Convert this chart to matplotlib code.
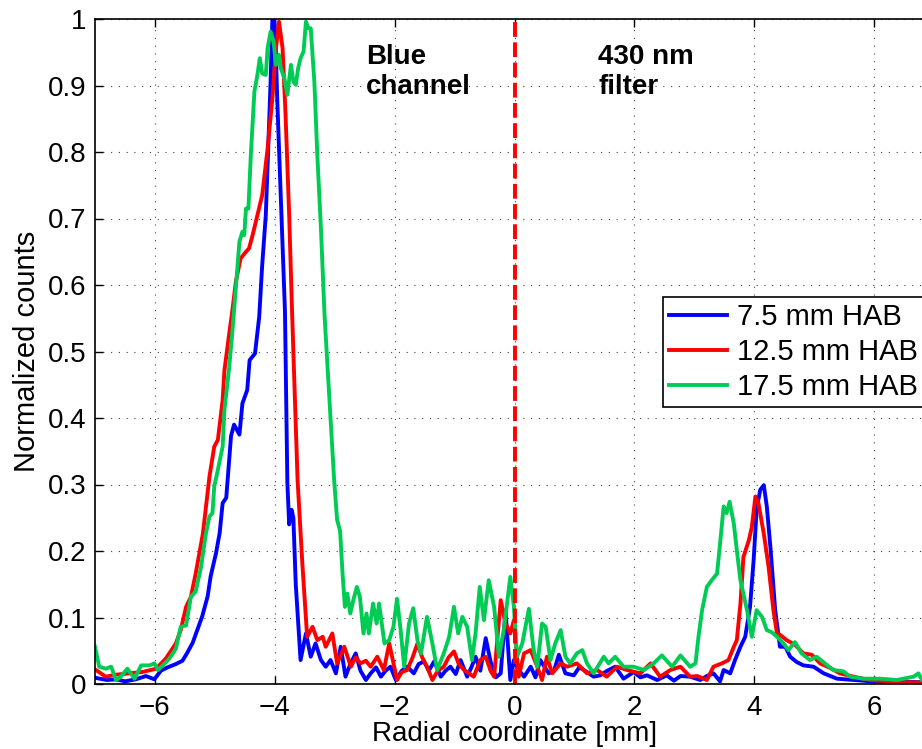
"""Normalized radial profiles of the blue channel (430 nm filter) at three HAB."""
import matplotlib

matplotlib.use("Agg")
import matplotlib.pyplot as plt

plt.rcParams["font.family"] = ["Liberation Sans", "DejaVu Sans"]

# 7.5 mm HAB
x_75 = [-7.0, -6.98, -6.8, -6.65, -6.5, -6.32, -6.15, -6.01, -5.9, -5.79,
        -5.65, -5.54, -5.46, -5.37, -5.29, -5.21, -5.12, -5.07, -4.98, -4.92,
        -4.87, -4.81, -4.73, -4.68, -4.59, -4.54, -4.46, -4.42, -4.33, -4.26,
        -4.21, -4.15, -4.11, -4.07, -4.04, -4.01, -3.99, -3.96, -3.91, -3.87,
        -3.83, -3.81, -3.79, -3.76, -3.72, -3.69, -3.65, -3.57, -3.48, -3.4,
        -3.32, -3.23, -3.15, -3.07, -2.98, -2.9, -2.82, -2.74, -2.65, -2.57,
        -2.48, -2.4, -2.31, -2.23, -2.15, -2.07, -1.98, -1.88, -1.79, -1.68,
        -1.6, -1.51, -1.43, -1.34, -1.23, -1.15, -1.07, -0.98, -0.9, -0.79,
        -0.72, -0.65, -0.57, -0.48, -0.4, -0.31, -0.23, -0.15, -0.07, -0.01,
        0.07, 0.16, 0.27, 0.35, 0.43, 0.57, 0.66, 0.74, 0.85, 0.99,
        1.08, 1.16, 1.32, 1.43, 1.55, 1.68, 1.82, 1.99, 2.1, 2.21,
        2.38, 2.54, 2.66, 2.77, 2.93, 3.1, 3.21, 3.32, 3.43, 3.49,
        3.6, 3.68, 3.77, 3.85, 3.93, 3.99, 4.04, 4.1, 4.16, 4.21,
        4.27, 4.35, 4.43, 4.52, 4.6, 4.71, 4.82, 4.99, 5.16, 5.38,
        5.66, 6.1, 6.66, 7.0]
y_75 = [0.01, 0.009, 0.006, 0.007, 0.004, 0.007, 0.012, 0.007, 0.02, 0.025,
        0.03, 0.035, 0.047, 0.062, 0.082, 0.102, 0.132, 0.162, 0.197, 0.227,
        0.272, 0.28, 0.373, 0.39, 0.375, 0.422, 0.442, 0.487, 0.497, 0.552,
        0.63, 0.705, 0.805, 0.906, 1.0, 1.0, 0.976, 0.881, 0.756, 0.655,
        0.56, 0.427, 0.302, 0.24, 0.262, 0.25, 0.15, 0.036, 0.076, 0.041,
        0.061, 0.036, 0.026, 0.036, 0.016, 0.056, 0.011, 0.03, 0.046, 0.02,
        0.006, 0.016, 0.025, 0.011, 0.02, 0.026, 0.006, 0.02, 0.026, 0.016,
        0.03, 0.034, 0.02, 0.034, 0.011, 0.02, 0.026, 0.015, 0.036, 0.011,
        0.025, 0.041, 0.02, 0.069, 0.034, 0.01, 0.016, 0.111, 0.006, 0.036,
        0.021, 0.011, 0.026, 0.01, 0.036, 0.016, 0.02, 0.044, 0.016, 0.013,
        0.025, 0.021, 0.011, 0.013, 0.02, 0.026, 0.008, 0.018, 0.01, 0.013,
        0.006, 0.013, 0.005, 0.012, 0.011, 0.006, 0.012, 0.016, 0.004, 0.021,
        0.016, 0.036, 0.056, 0.071, 0.116, 0.186, 0.262, 0.292, 0.299, 0.267,
        0.206, 0.111, 0.056, 0.056, 0.041, 0.033, 0.028, 0.026, 0.016, 0.008,
        0.006, 0.003, 0.003, 0.002]

# 12.5 mm HAB
x_125 = [-7.0, -6.82, -6.65, -6.43, -6.21, -5.98, -5.82, -5.65, -5.57, -5.48,
         -5.4, -5.32, -5.2, -5.09, -5.01, -4.95, -4.87, -4.84, -4.76, -4.71,
         -4.65, -4.57, -4.48, -4.43, -4.37, -4.29, -4.21, -4.12, -4.04, -3.98,
         -3.93, -3.87, -3.82, -3.76, -3.71, -3.62, -3.54, -3.46, -3.37, -3.29,
         -3.2, -3.15, -3.04, -2.96, -2.84, -2.73, -2.65, -2.57, -2.48, -2.4,
         -2.29, -2.18, -2.09, -1.96, -1.88, -1.79, -1.7, -1.62, -1.54, -1.46,
         -1.37, -1.28, -1.18, -1.1, -1.01, -0.93, -0.84, -0.76, -0.68, -0.57,
         -0.48, -0.4, -0.34, -0.23, -0.15, -0.07, -0.01, 0.07, 0.16, 0.27,
         0.38, 0.46, 0.54, 0.63, 0.77, 0.88, 1.04, 1.21, 1.38, 1.54,
         1.71, 1.88, 2.1, 2.27, 2.43, 2.6, 2.77, 2.93, 3.05, 3.21,
         3.32, 3.46, 3.57, 3.66, 3.71, 3.77, 3.82, 3.91, 3.96, 4.02,
         4.07, 4.16, 4.24, 4.32, 4.38, 4.43, 4.54, 4.68, 4.82, 4.96,
         5.1, 5.27, 5.43, 5.66, 5.93, 6.38, 6.77, 7.0]
y_125 = [0.022, 0.011, 0.014, 0.016, 0.018, 0.023, 0.038, 0.061, 0.081, 0.116,
         0.131, 0.166, 0.226, 0.312, 0.357, 0.367, 0.427, 0.472, 0.527, 0.56,
         0.605, 0.64, 0.65, 0.655, 0.675, 0.705, 0.735, 0.805, 0.881, 0.956,
         0.996, 0.956, 0.855, 0.705, 0.555, 0.307, 0.181, 0.071, 0.086, 0.066,
         0.071, 0.056, 0.076, 0.031, 0.056, 0.026, 0.04, 0.031, 0.035, 0.026,
         0.041, 0.021, 0.061, 0.006, 0.018, 0.021, 0.04, 0.061, 0.04, 0.026,
         0.006, 0.02, 0.026, 0.04, 0.049, 0.03, 0.021, 0.016, 0.011, 0.036,
         0.041, 0.02, 0.011, 0.126, 0.091, 0.076, 0.096, 0.011, 0.046, 0.051,
         0.026, 0.006, 0.041, 0.016, 0.031, 0.026, 0.031, 0.016, 0.021, 0.011,
         0.026, 0.021, 0.016, 0.031, 0.011, 0.021, 0.026, 0.011, 0.012, 0.006,
         0.026, 0.031, 0.036, 0.056, 0.066, 0.121, 0.191, 0.216, 0.236, 0.282,
         0.272, 0.226, 0.176, 0.111, 0.076, 0.074, 0.066, 0.059, 0.046, 0.044,
         0.031, 0.024, 0.016, 0.011, 0.006, 0.003, 0.002, 0.002]

# 17.5 mm HAB
x_175 = [-7.0, -6.93, -6.82, -6.73, -6.65, -6.57, -6.46, -6.34, -6.23, -6.09,
         -6.01, -5.95, -5.87, -5.76, -5.65, -5.57, -5.48, -5.4, -5.32, -5.23,
         -5.15, -5.09, -5.04, -5.01, -4.95, -4.87, -4.84, -4.76, -4.71, -4.65,
         -4.59, -4.54, -4.51, -4.48, -4.44, -4.4, -4.34, -4.29, -4.25, -4.21,
         -4.15, -4.12, -4.07, -4.02, -3.98, -3.93, -3.9, -3.84, -3.79, -3.73,
         -3.69, -3.65, -3.61, -3.57, -3.52, -3.48, -3.44, -3.4, -3.34, -3.29,
         -3.23, -3.17, -3.01, -2.96, -2.91, -2.87, -2.83, -2.79, -2.74, -2.69,
         -2.63, -2.58, -2.52, -2.47, -2.43, -2.36, -2.3, -2.26, -2.17, -2.09,
         -2.02, -1.96, -1.9, -1.84, -1.76, -1.69, -1.62, -1.56, -1.46, -1.37,
         -1.29, -1.18, -1.09, -1.01, -0.94, -0.87, -0.79, -0.71, -0.65, -0.58,
         -0.51, -0.43, -0.34, -0.26, -0.18, -0.07, -0.01, 0.04, 0.13, 0.24,
         0.32, 0.38, 0.46, 0.52, 0.6, 0.68, 0.77, 0.85, 0.93, 1.04,
         1.13, 1.21, 1.32, 1.49, 1.57, 1.68, 1.82, 1.99, 2.16, 2.32,
         2.46, 2.63, 2.77, 2.93, 3.02, 3.07, 3.13, 3.21, 3.29, 3.38,
         3.43, 3.49, 3.54, 3.59, 3.66, 3.71, 3.77, 3.88, 3.96, 4.04,
         4.13, 4.21, 4.29, 4.38, 4.49, 4.57, 4.68, 4.79, 4.93, 5.04,
         5.18, 5.32, 5.49, 5.6, 5.82, 6.1, 6.38, 6.66, 6.74, 6.8, 7.0]
y_175 = [0.056, 0.026, 0.023, 0.026, 0.006, 0.011, 0.023, 0.008, 0.028, 0.028,
         0.031, 0.021, 0.028, 0.038, 0.053, 0.086, 0.088, 0.131, 0.139, 0.176,
         0.226, 0.252, 0.257, 0.297, 0.322, 0.357, 0.412, 0.477, 0.527, 0.595,
         0.665, 0.68, 0.675, 0.715, 0.715, 0.795, 0.891, 0.916, 0.941, 0.918,
         0.916, 0.956, 0.981, 0.966, 0.931, 0.946, 0.926, 0.911, 0.886, 0.931,
         0.906, 0.901, 0.926, 0.941, 0.951, 0.996, 0.986, 0.986, 0.906, 0.795,
         0.685, 0.555, 0.307, 0.247, 0.23, 0.167, 0.116, 0.136, 0.106, 0.126,
         0.146, 0.131, 0.076, 0.106, 0.076, 0.121, 0.091, 0.121, 0.061, 0.066,
         0.086, 0.128, 0.081, 0.026, 0.091, 0.114, 0.066, 0.046, 0.101, 0.061,
         0.021, 0.046, 0.071, 0.116, 0.076, 0.101, 0.086, 0.036, 0.076, 0.146,
         0.096, 0.156, 0.116, 0.041, 0.081, 0.161, 0.116, 0.041, 0.061, 0.113,
         0.051, 0.026, 0.091, 0.086, 0.036, 0.061, 0.081, 0.041, 0.031, 0.046,
         0.051, 0.031, 0.016, 0.041, 0.031, 0.041, 0.026, 0.026, 0.021, 0.031,
         0.043, 0.026, 0.043, 0.026, 0.031, 0.071, 0.111, 0.146, 0.156, 0.166,
         0.211, 0.267, 0.257, 0.274, 0.241, 0.201, 0.156, 0.111, 0.071, 0.111,
         0.101, 0.081, 0.078, 0.071, 0.061, 0.051, 0.063, 0.046, 0.036, 0.041,
         0.031, 0.021, 0.019, 0.011, 0.008, 0.008, 0.006, 0.011, 0.016, 0.006,
         0.008]

series_labels = ["7.5 mm HAB", "12.5 mm HAB", "17.5 mm HAB"]
series_colors = ["#0000ff", "#ff0000", "#00cc55"]

x_ticks = [-6, -4, -2, 0, 2, 4, 6]
y_ticks = [0, 0.1, 0.2, 0.3, 0.4, 0.5, 0.6, 0.7, 0.8, 0.9, 1]
y_tick_labels = ["0", "0.1", "0.2", "0.3", "0.4", "0.5", "0.6", "0.7",
                 "0.8", "0.9", "1"]

fig = plt.figure(figsize=(9.22, 7.49), dpi=100)
# Axes run past the right edge of the figure (the original is cropped there)
ax = fig.add_axes([95 / 922, 65 / 749, 839 / 922, 665 / 749])

for xs, ys, lab, col in zip([x_75, x_125, x_175], [y_75, y_125, y_175],
                            series_labels, series_colors):
    ax.plot(xs, ys, color=col, lw=2.8, label=lab)

# Divider between the two sides of the flame
ax.plot([0, 0], [0, 1], color="#ff0000", lw=2.8, ls=(0, (3.8, 1.4)))

ax.set_xlim(-7, 7)
ax.set_ylim(0, 1)
ax.set_xticks(x_ticks)
ax.set_yticks(y_ticks)
ax.set_yticklabels(y_tick_labels)

ax.grid(True, color="#444444", lw=0.8, ls=(0, (1, 6)))
ax.tick_params(direction="in", length=6, width=1, top=True, right=True,
               labelsize=20)
ax.tick_params(axis="x", pad=8)
ax.tick_params(axis="y", pad=6)
for sp in ax.spines.values():
    sp.set_linewidth(1.2)

ax.set_xlabel("Radial coordinate [mm]", fontsize=20, labelpad=0)
ax.set_ylabel("Normalized counts", fontsize=21, labelpad=5)

ax.text(-2.48, 0.962, "Blue\nchannel", fontsize=20, fontweight="bold",
        va="top", ha="left", linespacing=1.2)
ax.text(1.4, 0.962, "430 nm\nfilter", fontsize=20, fontweight="bold",
        va="top", ha="left", linespacing=1.2)

leg = ax.legend(loc="upper left", bbox_to_anchor=(0.677, 0.582),
                borderaxespad=0, fontsize=21, handlelength=2.0,
                handletextpad=0.35, labelspacing=0.25, fancybox=False,
                framealpha=1, edgecolor="black", borderpad=0.2)
leg.get_frame().set_linewidth(1.2)

fig.savefig("out.png", dpi=100)
